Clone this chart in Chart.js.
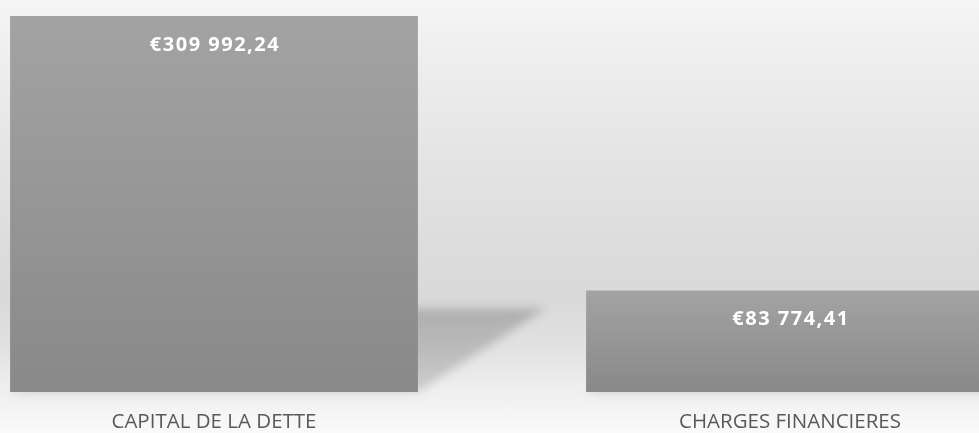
<!DOCTYPE html>
<html>
<head>
<meta charset="utf-8">
<script src="https://cdn.jsdelivr.net/npm/chart.js@4.4.1/dist/chart.umd.min.js"></script>
<style>
  html, body { margin: 0; padding: 0; width: 979px; height: 433px; overflow: hidden; }
  body {
    position: relative;
    background: linear-gradient(to bottom,
      #f5f5f5 0px, #eeeeee 60px, #e5e5e5 150px, #dcdcdc 250px,
      #d9d9d9 300px, #e1e1e1 345px, #efefef 390px, #fafafa 433px);
  }
  #wrap { position: absolute; left: -74px; top: 0; width: 1152px; height: 452px; }
</style>
</head>
<body>
<div id="wrap"><canvas id="c" width="1152" height="452"></canvas></div>
<script>
const categories = ['CAPITAL DE LA DETTE', 'CHARGES FINANCIERES'];
const values = [309992.24, 83774.41];
const yAxisMax = 323200;

function formatEuro(v) {
  const parts = v.toFixed(2).split('.');
  const intPart = parts[0].replace(/\B(?=(\d{3})+(?!\d))/g, ' ');
  return '€' + intPart + ',' + parts[1];
}

const shadowPlugin = {
  id: 'perspShadow',
  beforeDatasetsDraw(chart) {
    const ctx = chart.ctx;
    const meta = chart.getDatasetMeta(0);
    meta.data.forEach((bar) => {
      const props = bar.getProps(['x', 'y', 'base', 'width'], true);
      const h = props.base - props.y;
      const left = props.x - props.width / 2;
      const right = props.x + props.width / 2;
      const dx = 0.34 * h;
      const dy = 0.223 * h;
      ctx.save();
      ctx.filter = 'blur(5px)';
      const g = ctx.createLinearGradient(0, props.base - dy, 0, props.base);
      g.addColorStop(0, 'rgba(0,0,0,0.2)');
      g.addColorStop(1, 'rgba(0,0,0,0.14)');
      ctx.fillStyle = g;
      ctx.beginPath();
      ctx.moveTo(left, props.base);
      ctx.lineTo(right, props.base);
      ctx.lineTo(right + dx, props.base - dy);
      ctx.lineTo(left + dx, props.base - dy);
      ctx.closePath();
      ctx.fill();
      ctx.restore();
    });
  }
};

const labelPlugin = {
  id: 'valueLabels',
  afterDatasetsDraw(chart) {
    const ctx = chart.ctx;
    const meta = chart.getDatasetMeta(0);
    meta.data.forEach((bar, i) => {
      const props = bar.getProps(['x', 'y'], true);
      ctx.save();
      ctx.font = 'bold 20px "Open Sans"';
      if ('letterSpacing' in ctx) ctx.letterSpacing = '1.5px';
      ctx.fillStyle = '#ffffff';
      ctx.textAlign = 'center';
      ctx.textBaseline = 'middle';
      ctx.fillText(formatEuro(values[i]), props.x + 1, props.y + 29);
      ctx.restore();
    });
  }
};

new Chart(document.getElementById('c'), {
  type: 'bar',
  data: {
    labels: categories,
    datasets: [{
      data: values,
      backgroundColor(context) {
        const chart = context.chart;
        const ca = chart.chartArea;
        if (!ca) return '#999999';
        const yScale = chart.scales.y;
        const top = yScale.getPixelForValue(values[context.dataIndex]);
        const g = chart.ctx.createLinearGradient(0, top, 0, ca.bottom);
        g.addColorStop(0, '#a3a3a3');
        g.addColorStop(1, '#898989');
        return g;
      },
      borderWidth: 0,
      barPercentage: 0.708,
      categoryPercentage: 1.0
    }]
  },
  options: {
    responsive: false,
    animation: false,
    layout: { padding: 0 },
    plugins: {
      legend: { display: false },
      tooltip: { enabled: false }
    },
    scales: {
      x: {
        grid: { display: false, drawTicks: false },
        border: { display: false },
        ticks: {
          color: '#595959',
          font: { family: '"Open Sans"', size: 20.5 },
          padding: 17.7,
          maxRotation: 0
        }
      },
      y: {
        display: false,
        min: 0,
        max: yAxisMax
      }
    }
  },
  plugins: [shadowPlugin, labelPlugin]
});
</script>
</body>
</html>
